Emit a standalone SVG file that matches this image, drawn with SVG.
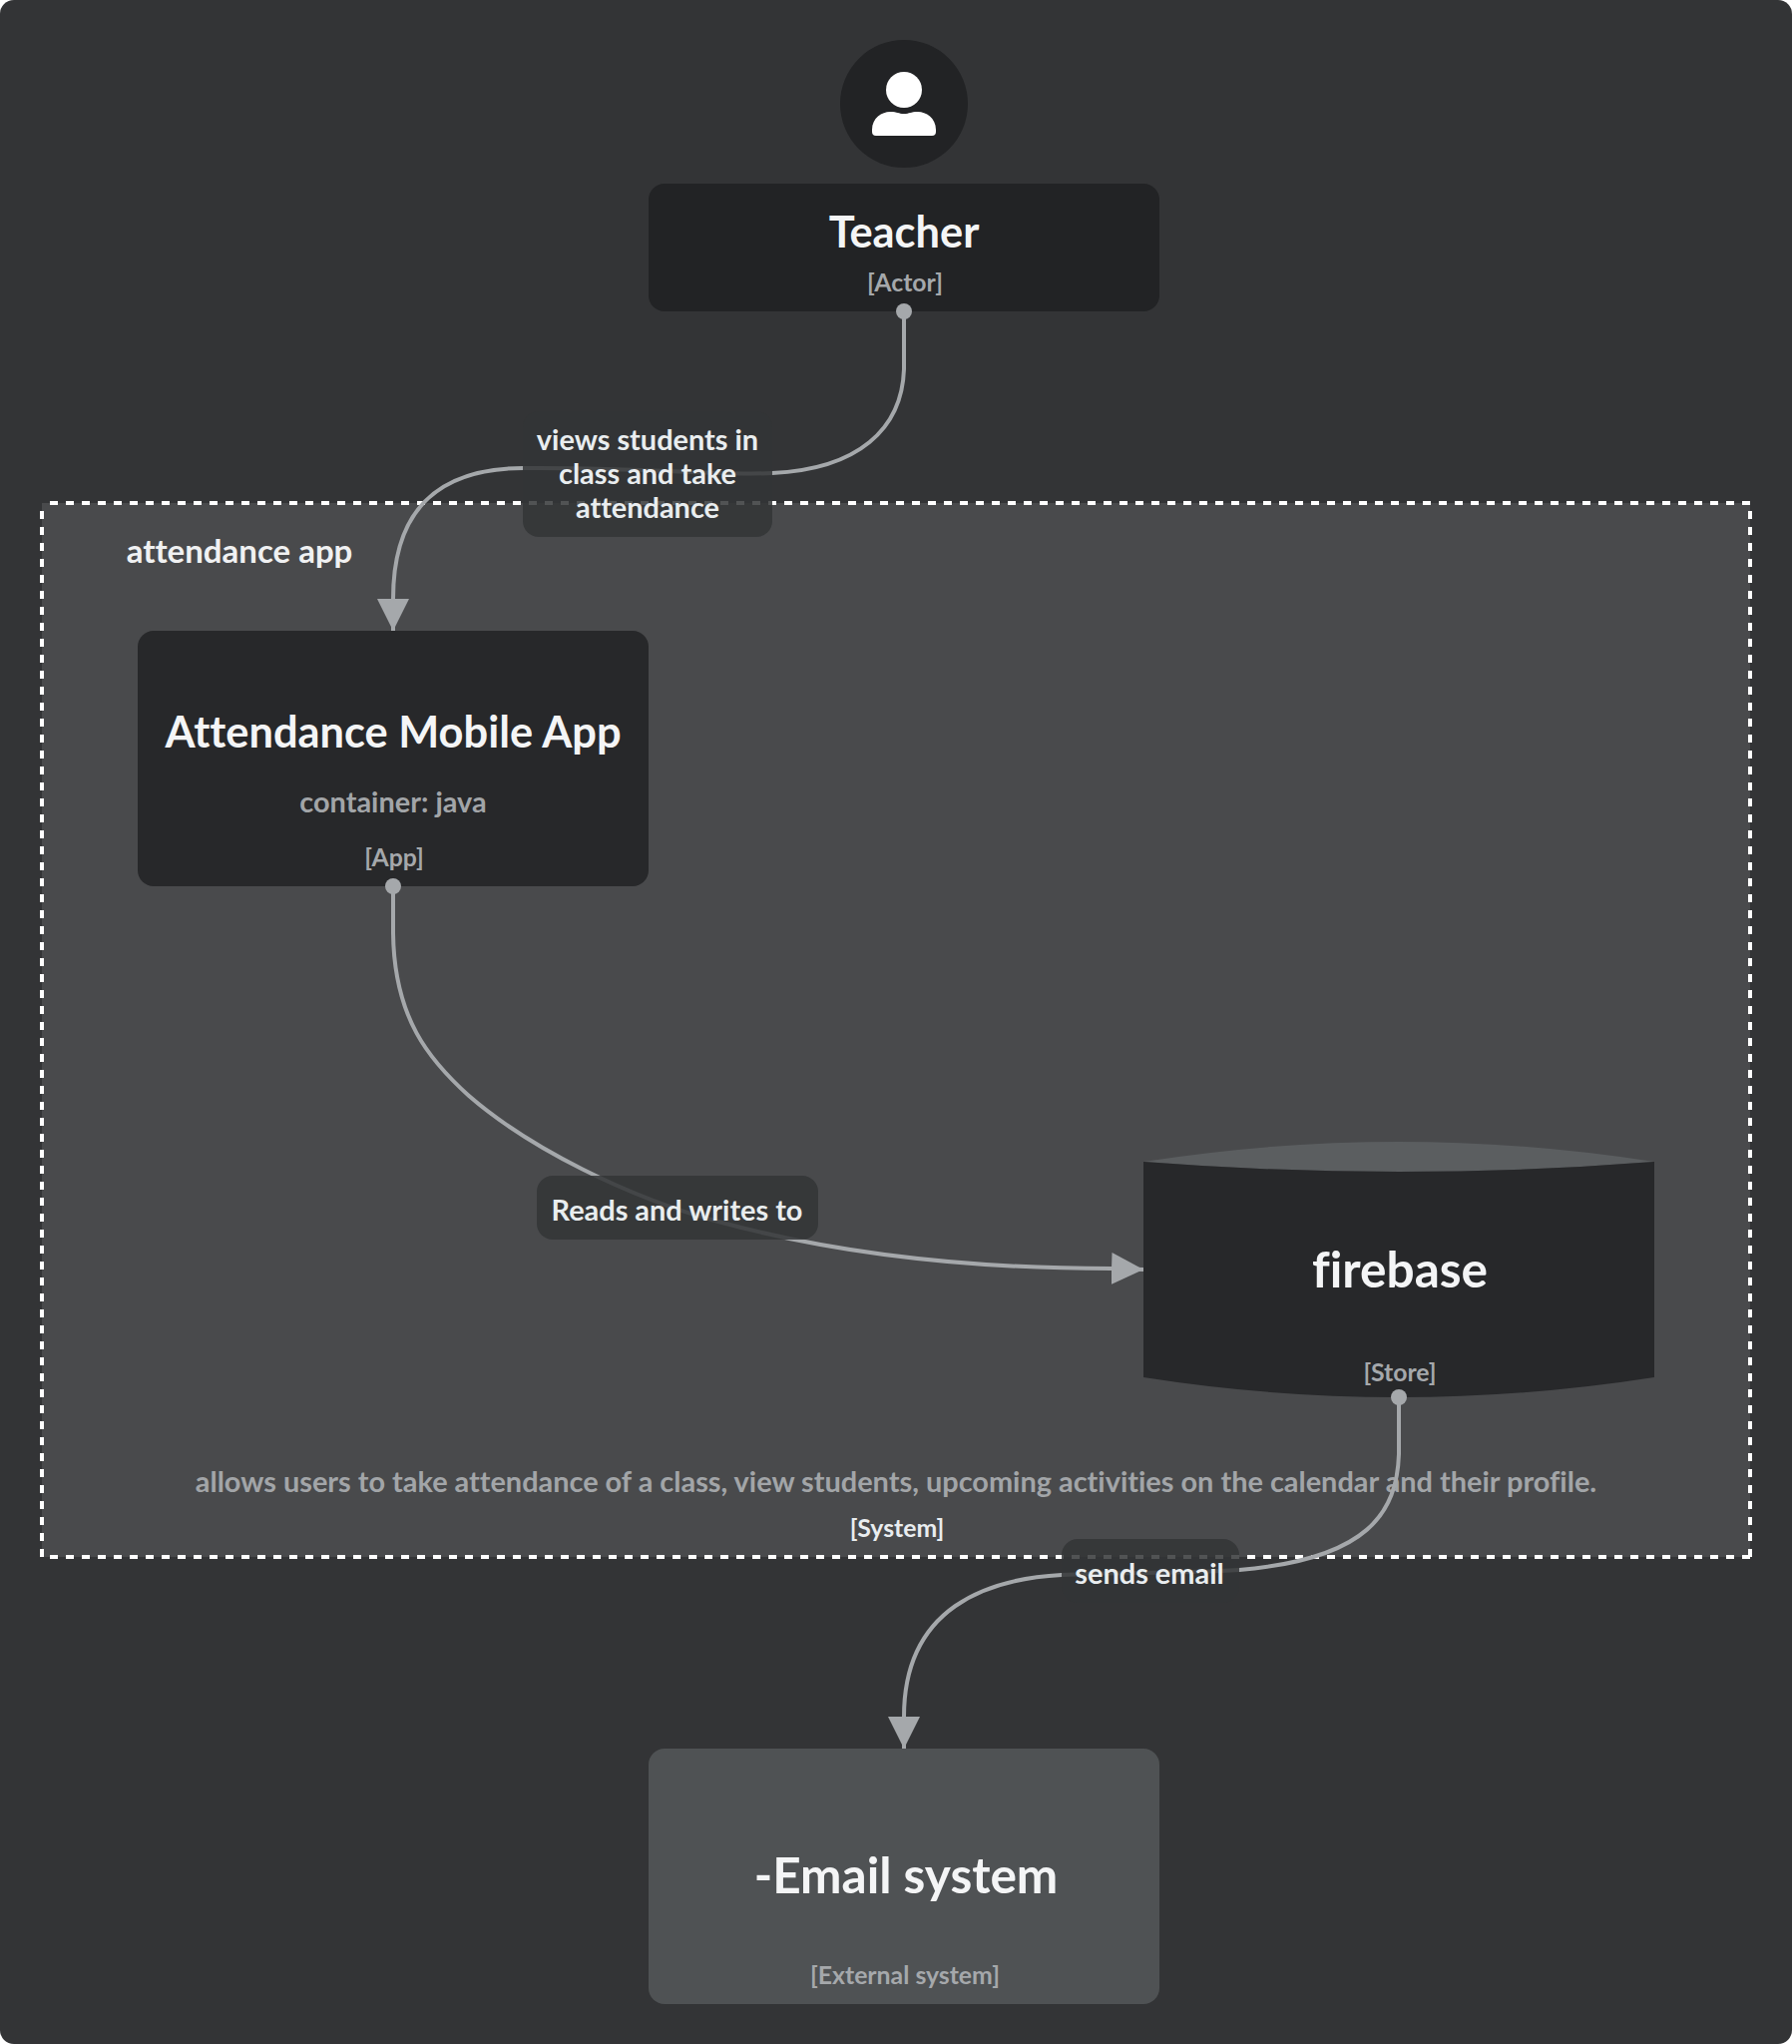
<svg xmlns="http://www.w3.org/2000/svg" width="1796" height="2048" viewBox="0 0 1796 2048">
<style>
text{font-family:Lato,"Open Sans","Liberation Sans",sans-serif;text-anchor:middle;font-weight:700;font-variant-ligatures:none}
.name{fill:#f4f5f6;font-size:43.4px}
.big{fill:#f4f5f6;font-size:49.5px}
.meta{fill:#a5a8ab;font-size:24.8px}
.desc{fill:#a2a5a8;font-size:28.9px}
.lbl{fill:#e9edef;font-size:28.9px}
.edge{fill:none;stroke:#a5a8ab;stroke-width:4}
.dot{fill:#a5a8ab}
.lblbg{fill:#323536;opacity:.85}
.box{fill:#27282a}
</style>
<defs>
<marker id="arrow" markerUnits="userSpaceOnUse" markerWidth="34" markerHeight="34" refX="32" refY="16" orient="auto"><path d="M0 0L32 16L0 32Z" fill="#a5a8ab"/></marker>
</defs>
<rect id="page" width="1796" height="2048" rx="14" fill="#333436"/>
<g id="system-boundary">
<rect x="42" y="504" width="1712" height="1056" fill="#494a4c"/>
<path d="M42 504H1754M42 1560H1754M42 504V1560M1754 504V1560" fill="none" stroke="#fff" stroke-width="4" stroke-dasharray="8 8" stroke-dashoffset="8"/>
<text x="240" y="564" style="font-size:33px" fill="#f0f1f2">attendance app</text>
<text x="898" y="1495" class="desc">allows users to take attendance of a class, view students, upcoming activities on the calendar and their profile.</text>
<text x="899" y="1540" class="meta" style="fill:#e9edef">[System]</text>
</g>
<g id="connectors">
<path class="edge" marker-end="url(#arrow)" d="M906 312V370C904 430 860 470 774 474C720 477 650 468 525 469C445 469 394 505 394 600V632"/>
<path class="edge" marker-end="url(#arrow)" d="M394 888V935C395 1020 430 1062 470 1098C530 1150 630 1200 720 1224C830 1254 960 1271 1114 1271L1146 1272"/>
<path class="edge" marker-end="url(#arrow)" d="M1402 1400V1457C1400 1515 1372 1562 1242 1573C1180 1577 1120 1575 1064 1578C990 1582 906 1610 906 1720V1752"/>
</g>
<g id="teacher">
<circle cx="906" cy="104" r="64" fill="#222325"/>
<ellipse cx="906" cy="90" rx="18" ry="18" fill="#fff"/>
<path d="M874 130C874 118 884 112 892 112C900 112 900 114 906 114C912 114 912 112 920 112C928 112 938 118 938 130V132Q938 136 934 136H878Q874 136 874 132Z" fill="#fff"/>
<rect x="650" y="184" width="512" height="128" rx="16" fill="#222325"/>
<text x="906" y="248" class="name">Teacher</text>
<text x="907" y="292" class="meta">[Actor]</text>
<circle class="dot" cx="906" cy="312" r="8"/>
</g>
<g id="mobile-app">
<rect x="138" y="632" width="512" height="256" rx="16" class="box"/>
<text x="394" y="749" class="name">Attendance Mobile App</text>
<text x="394" y="814" class="desc">container: java</text>
<text x="395" y="868" class="meta">[App]</text>
<circle class="dot" cx="394" cy="888" r="8"/>
</g>
<g id="firebase">
<path d="M1146 1164Q1402 1124 1658 1164Q1402 1184 1146 1164Z" fill="#5b5e60"/>
<path d="M1146 1164Q1402 1184 1658 1164V1380Q1402 1420 1146 1380Z" class="box"/>
<text x="1403" y="1290" class="big">firebase</text>
<text x="1403" y="1384" class="meta">[Store]</text>
<circle class="dot" cx="1402" cy="1400" r="8"/>
</g>
<g id="email-system">
<rect x="650" y="1752" width="512" height="256" rx="16" fill="#4f5254"/>
<text x="908" y="1897" class="big">-Email system</text>
<text x="907" y="1988" class="meta">[External system]</text>
</g>
<g id="connector-labels">
<rect class="lblbg" x="524" y="412" width="250" height="126" rx="16"/>
<text x="649" y="451" class="lbl">views students in</text>
<text x="649" y="485" class="lbl">class and take</text>
<text x="649" y="519" class="lbl">attendance</text>
<rect class="lblbg" x="538" y="1178" width="282" height="64" rx="16"/>
<text x="678.500" y="1223" class="lbl">Reads and writes to</text>
<rect class="lblbg" x="1064" y="1542" width="178" height="64" rx="16"/>
<text x="1152" y="1587" class="lbl">sends email</text>
</g>
</svg>
